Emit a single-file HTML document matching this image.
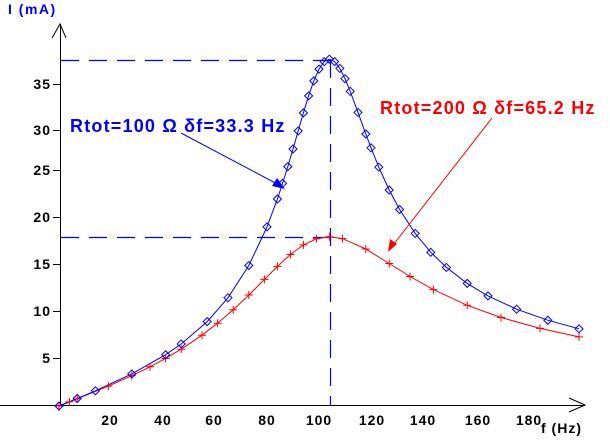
<!DOCTYPE html>
<html><head><meta charset="utf-8"><style>
body{margin:0;background:#fff;width:610px;height:447px;overflow:hidden}
svg{display:block;font-family:"Liberation Sans",Arial,sans-serif;font-weight:bold}
</style></head><body>
<svg id="s" width="610" height="447" viewBox="0 0 610 447" xmlns="http://www.w3.org/2000/svg">
<rect width="610" height="447" fill="#fff"/>
<g stroke="#0000ff" stroke-width="1.2" stroke-dasharray="18,10" fill="none">
<line x1="61" y1="60.5" x2="330" y2="60.5"/>
<line x1="61" y1="237.5" x2="330" y2="237.5"/>
<line x1="330.5" y1="60" x2="330.5" y2="405"/>
</g>
<g stroke="#000" stroke-width="1" fill="none" shape-rendering="crispEdges">
<line x1="0" y1="405.5" x2="585" y2="405.5"/>
<line x1="60.5" y1="24" x2="60.5" y2="405"/>
<line x1="53" y1="358.5" x2="60" y2="358.5"/><line x1="53" y1="311.5" x2="60" y2="311.5"/>
<line x1="53" y1="264.5" x2="60" y2="264.5"/><line x1="53" y1="217.5" x2="60" y2="217.5"/>
<line x1="53" y1="170.5" x2="60" y2="170.5"/><line x1="53" y1="130.5" x2="60" y2="130.5"/>
<line x1="53" y1="84.5" x2="60" y2="84.5"/>
</g>
<g stroke="#000" fill="none">
<polyline points="52,38 60,24 66,38"/>
<polyline points="569,398 585,405 569,412"/>
</g>
<g font-size="14" fill="#000" text-anchor="end" letter-spacing="1">
<text x="51" y="363">5</text><text x="51" y="316">10</text><text x="51" y="269">15</text>
<text x="51" y="222">20</text><text x="51" y="175">25</text><text x="51" y="135">30</text><text x="51" y="89">35</text>
</g>
<g font-size="14" fill="#000" text-anchor="middle" letter-spacing="1">
<text x="110" y="425">20</text><text x="163" y="425">40</text><text x="214" y="425">60</text>
<text x="267" y="425">80</text><text x="319" y="425">100</text><text x="372" y="425">120</text>
<text x="423" y="425">140</text><text x="478" y="425">160</text><text x="529" y="425">180</text>
</g>
<text x="541" y="433" font-size="14" fill="#000" letter-spacing="1">f (Hz)</text>
<text x="8" y="14" font-size="14" fill="#0000ff" letter-spacing="1.5">I (mA)</text>
<g id="curves"></g>
<text x="70" y="132" font-size="18" fill="#0000ff" letter-spacing="1.2">Rtot=100 Ω δf=33.3 Hz</text>
<text x="380" y="114" font-size="18" fill="#ff0000" letter-spacing="1.2">Rtot=200 Ω δf=65.2 Hz</text>
<line x1="181" y1="133" x2="283" y2="187" stroke="#0000ff"/>
<polygon points="285,189 272,186 277,178" fill="#0000ff"/>
<line x1="492" y1="118" x2="390" y2="249" stroke="#ff0000"/>
<polygon points="388,252 390,239 397,244" fill="#ff0000"/>
</svg>
<script>
const X=f=>59+2.6*f, Y=i=>406-9.2*i;
function I(f,R,L,V){const w=2*Math.PI*Math.max(f,0.01),w0=2*Math.PI*104,C=1/(L*w0*w0);const x=w*L-1/(w*C);return 1000*V/Math.sqrt(R*R+x*x);}
const B=f=>I(f,100,0.478,3.77), Rd=f=>I(f,200,0.488,3.68);
const bf=[0,7,14,28,41,47,57,65,73,80,84,86,88,90,92,94,96,98,100,102,104,106,108,110,112,115,118,120,123,127,131,137,143,149,157,165,176,188,200];
const rf=[0,4,7,19,28,35,41,47,55,61,67,73,79,84,89,94,99,104,109,118,127,135,144,157,170,185,200];
let h='';
const rp=rf.map(f=>X(f).toFixed(1)+','+Y(Rd(f)).toFixed(1)).join(' ');
const bp=bf.map(f=>X(f).toFixed(1)+','+Y(B(f)).toFixed(1)).join(' ');
h+=`<polyline points="${rp}" fill="none" stroke="#ff0000"/>`;
h+=`<polyline points="${bp}" fill="none" stroke="#0000ff"/>`;
rf.forEach(f=>{const x=X(f),y=Y(Rd(f));h+=`<path d="M${x-4} ${y}H${x+4}M${x} ${y-4}V${y+4}" stroke="#ff0000"/>`;});
bf.forEach(f=>{const x=X(f),y=Y(B(f));h+=`<polygon points="${x-4},${y} ${x},${y-4} ${x+4},${y} ${x},${y+4}" fill="none" stroke="#0000ff"/>`;});
document.getElementById('curves').innerHTML=h;
</script>
</body></html>
